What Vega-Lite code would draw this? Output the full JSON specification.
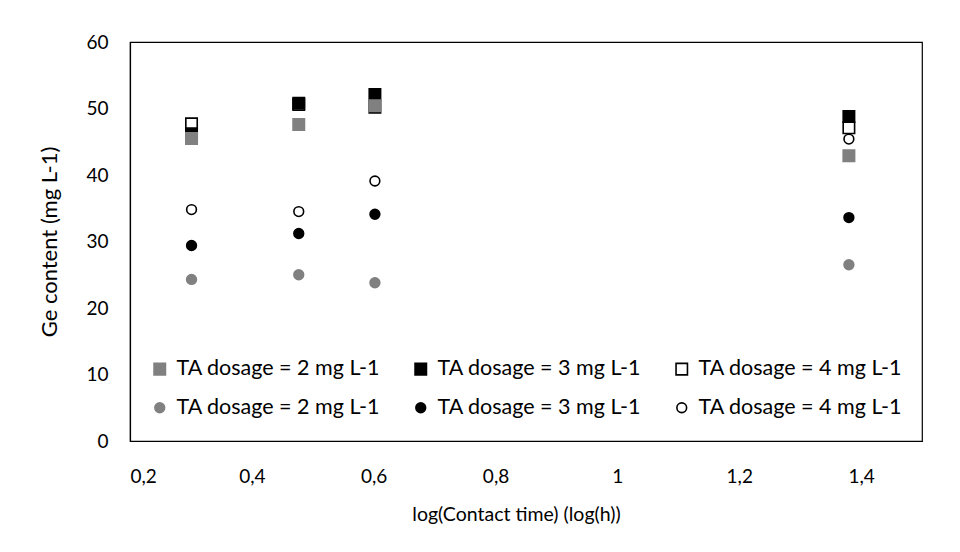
{
  "$schema": "https://vega.github.io/schema/vega-lite/v6.json",
  "width": 792,
  "height": 399,
  "autosize": "none",
  "padding": {"left": 130, "top": 42, "right": 38, "bottom": 111},
  "background": "white",
  "config": {
    "font": "Lato",
    "view": {"stroke": "#000000", "strokeWidth": 1.2},
    "axis": {"grid": false, "ticks": false, "domainColor": "#000000", "domainWidth": 1.2, "labelFont": "Lato", "labelFontSize": 19, "labelColor": "#000000", "titleFont": "Lato", "titleFontSize": 19.5, "titleFontWeight": "normal", "titleColor": "#000000"}
  },
  "data": {
    "values": [
      {"t": 0.301, "v": 47.7, "s": "S4TA dosage = 4 mg L-1"},
      {"t": 0.477, "v": 50.6, "s": "S4TA dosage = 4 mg L-1"},
      {"t": 0.602, "v": 50.2, "s": "S4TA dosage = 4 mg L-1"},
      {"t": 1.380, "v": 47.1, "s": "S4TA dosage = 4 mg L-1"},
      {"t": 0.301, "v": 46.2, "s": "S3TA dosage = 3 mg L-1"},
      {"t": 0.477, "v": 50.8, "s": "S3TA dosage = 3 mg L-1"},
      {"t": 0.602, "v": 52.1, "s": "S3TA dosage = 3 mg L-1"},
      {"t": 1.380, "v": 48.8, "s": "S3TA dosage = 3 mg L-1"},
      {"t": 0.301, "v": 45.5, "s": "S2TA dosage = 2 mg L-1"},
      {"t": 0.477, "v": 47.6, "s": "S2TA dosage = 2 mg L-1"},
      {"t": 0.602, "v": 50.4, "s": "S2TA dosage = 2 mg L-1"},
      {"t": 1.380, "v": 42.9, "s": "S2TA dosage = 2 mg L-1"},
      {"t": 0.301, "v": 24.3, "s": "C2TA dosage = 2 mg L-1"},
      {"t": 0.477, "v": 25.0, "s": "C2TA dosage = 2 mg L-1"},
      {"t": 0.602, "v": 23.8, "s": "C2TA dosage = 2 mg L-1"},
      {"t": 1.380, "v": 26.5, "s": "C2TA dosage = 2 mg L-1"},
      {"t": 0.301, "v": 29.4, "s": "C3TA dosage = 3 mg L-1"},
      {"t": 0.477, "v": 31.2, "s": "C3TA dosage = 3 mg L-1"},
      {"t": 0.602, "v": 34.1, "s": "C3TA dosage = 3 mg L-1"},
      {"t": 1.380, "v": 33.6, "s": "C3TA dosage = 3 mg L-1"},
      {"t": 0.301, "v": 34.8, "s": "C4TA dosage = 4 mg L-1"},
      {"t": 0.477, "v": 34.5, "s": "C4TA dosage = 4 mg L-1"},
      {"t": 0.602, "v": 39.1, "s": "C4TA dosage = 4 mg L-1"},
      {"t": 1.380, "v": 45.4, "s": "C4TA dosage = 4 mg L-1"}
    ]
  },
  "mark": {"type": "point", "filled": true, "strokeWidth": 1.6, "opacity": 1},
  "encoding": {
    "x": {
      "field": "t", "type": "quantitative",
      "scale": {"domain": [0.2, 1.5], "nice": false, "zero": false},
      "axis": {"values": [0.2, 0.4, 0.6, 0.8, 1, 1.2, 1.4], "labelExpr": "replace(format(datum.value, '~g'), '.', ',')", "labelPadding": 26, "title": "log(Contact time) (log(h))", "titlePadding": 19, "titleX": 386}
    },
    "y": {
      "field": "v", "type": "quantitative",
      "scale": {"domain": [0, 60], "nice": false},
      "axis": {"values": [0, 10, 20, 30, 40, 50, 60], "labelPadding": 22, "title": "Ge content (mg L-1)", "titleFontSize": 22, "titlePadding": 24}
    },
    "shape": {
      "field": "s", "type": "nominal",
      "scale": {
        "domain": ["S2TA dosage = 2 mg L-1", "S3TA dosage = 3 mg L-1", "S4TA dosage = 4 mg L-1", "C2TA dosage = 2 mg L-1", "C3TA dosage = 3 mg L-1", "C4TA dosage = 4 mg L-1"],
        "range": ["square", "square", "square", "circle", "circle", "circle"]
      },
      "legend": {
        "title": null, "orient": "none", "legendX": 19, "legendY": 316, "columns": 3, "direction": "horizontal",
        "columnPadding": 29, "rowPadding": 16,
        "labelExpr": "slice(datum.label, 2)", "labelFont": "Lato", "labelFontSize": 21.5, "labelColor": "#000000",
        "labelLimit": 400, "labelOffset": 6, "symbolStrokeWidth": 1.6
      }
    },
    "fill": {
      "field": "s", "type": "nominal",
      "scale": {
        "domain": ["S2TA dosage = 2 mg L-1", "S3TA dosage = 3 mg L-1", "S4TA dosage = 4 mg L-1", "C2TA dosage = 2 mg L-1", "C3TA dosage = 3 mg L-1", "C4TA dosage = 4 mg L-1"],
        "range": ["#808080", "#000000", "#ffffff", "#808080", "#000000", "#ffffff"]
      }
    },
    "stroke": {
      "field": "s", "type": "nominal",
      "scale": {
        "domain": ["S2TA dosage = 2 mg L-1", "S3TA dosage = 3 mg L-1", "S4TA dosage = 4 mg L-1", "C2TA dosage = 2 mg L-1", "C3TA dosage = 3 mg L-1", "C4TA dosage = 4 mg L-1"],
        "range": ["#808080", "#000000", "#000000", "#808080", "#000000", "#000000"]
      }
    },
    "size": {
      "field": "s", "type": "nominal",
      "scale": {
        "type": "ordinal",
        "domain": ["S2TA dosage = 2 mg L-1", "S3TA dosage = 3 mg L-1", "S4TA dosage = 4 mg L-1", "C2TA dosage = 2 mg L-1", "C3TA dosage = 3 mg L-1", "C4TA dosage = 4 mg L-1"],
        "range": [130, 130, 130, 95, 95, 95]
      }
    }
  }
}
